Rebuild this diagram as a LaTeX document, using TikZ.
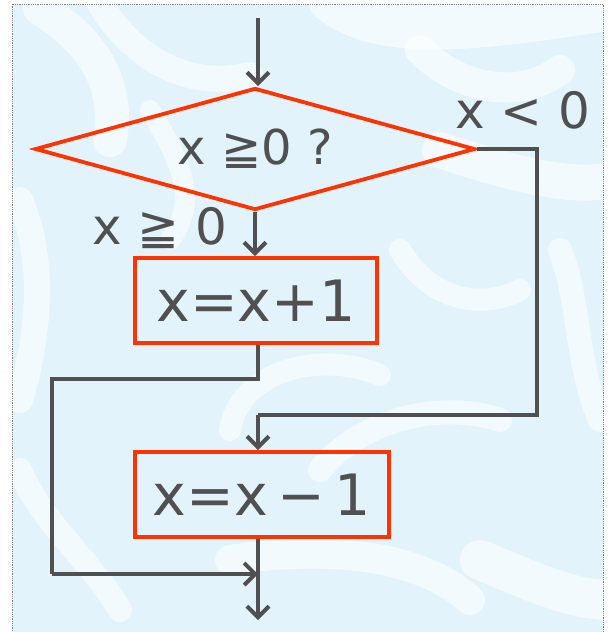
\documentclass[tikz,border=0pt]{standalone}
\usepackage{fontspec}
\setmainfont{DejaVu Sans}
\usetikzlibrary{shapes.geometric,arrows.meta,calc}
\definecolor{flowred}{RGB}{255,51,0}
\definecolor{flowgray}{RGB}{80,80,80}
\definecolor{bgblue}{RGB}{226,243,251}
\tikzset{
  conn/.style={draw=flowgray,line width=4pt},
  arr/.style={conn,-{Straight Barb[length=11pt,width=22pt]}},
  decision/.style={diamond,aspect=3.6,draw=flowred,line width=3.8pt,inner sep=0pt,minimum width=440pt,minimum height=122pt,text=flowgray,font=\fontsize{48}{52}\selectfont},
  process/.style={rectangle,draw=flowred,line width=3.8pt,inner sep=0pt,minimum height=85pt,text=flowgray,font=\fontsize{57}{62}\selectfont},
  lbl/.style={text=flowgray,inner sep=0pt,font=\fontsize{50}{54}\selectfont},
  swirl/.style={draw=white,line cap=round,opacity=0.6}
}
\begin{document}
\begin{tikzpicture}[x=1pt,y=-1pt]
\useasboundingbox (0,0) rectangle (615,632);
\fill[white] (0,0) rectangle (615,632);
\begin{scope}
\clip (12,4) rectangle (603,632);
\fill[bgblue] (12,4) rectangle (603,632);
% soft white swathes of the background pattern
\draw[swirl,line width=34pt] (40,8) .. controls (90,40) and (120,80) .. (110,140);
\draw[swirl,line width=26pt] (95,-5) .. controls (130,60) and (190,90) .. (250,75);
\draw[swirl,line width=44pt] (330,0) .. controls (380,40) and (470,30) .. (600,10);
\draw[swirl,line width=30pt] (420,50) .. controls (460,90) and (520,100) .. (560,70);
\draw[swirl,line width=36pt] (440,150) .. controls (500,170) and (570,190) .. (610,180);
\draw[swirl,line width=24pt] (560,250) .. controls (580,300) and (575,360) .. (600,420);
\draw[swirl,line width=26pt] (20,200) .. controls (45,260) and (40,330) .. (20,400);
\draw[swirl,line width=22pt] (230,430) .. controls (240,370) and (320,350) .. (380,375);
\draw[swirl,line width=24pt] (320,470) .. controls (360,420) and (440,400) .. (500,420);
\draw[swirl,line width=30pt] (230,560) .. controls (330,545) and (420,555) .. (470,600);
\draw[swirl,line width=40pt] (480,560) .. controls (530,580) and (570,600) .. (610,600);
\draw[swirl,line width=24pt] (20,470) .. controls (40,520) and (90,560) .. (120,610);
\draw[swirl,line width=20pt] (150,110) .. controls (180,160) and (200,200) .. (170,240);
\draw[swirl,line width=22pt] (400,250) .. controls (430,300) and (480,310) .. (520,290);
\end{scope}
\draw[gray,densely dotted,line width=0.8pt] (12,640) -- (12,4) -- (603,4) -- (603,640);
\coordinate (start) at (258,18);
\node[decision] (d) at (255,149) {x ≧0 ?};
\node[process,minimum width=242pt] (b1) at (256,300.5) {x=x+1};
\node[process,minimum width=254pt] (b2) at (262,494.5) {x=x\,−\,1};
\node[lbl] (lneg) at (523,110) {x < 0};
\node[lbl] (lpos) at (160,228) {x ≧ 0};
\coordinate (rc) at (537,149);
\coordinate (rj) at (537,415);
\coordinate (lj1) at (52,379);
\coordinate (lj2) at (52,574);
\coordinate (merge) at (258,574);
\coordinate (end) at (258,620);
\draw[arr] (start) -- (start |- d.north);
\draw[arr] (d.south) -- (d.south |- b1.north);
\draw[conn] (d.east) -- (rc) -- (rj) -- (258,415) coordinate (rj2);
\draw[arr] (rj2) -- (rj2 |- b2.north);
\draw[conn] (b1.south -| merge) -- (merge |- lj1) -- (lj1) -- (lj2);
\draw[arr] (lj2) -- (merge);
\draw[arr] (b2.south -| merge) -- (end);
\end{tikzpicture}
\end{document}
